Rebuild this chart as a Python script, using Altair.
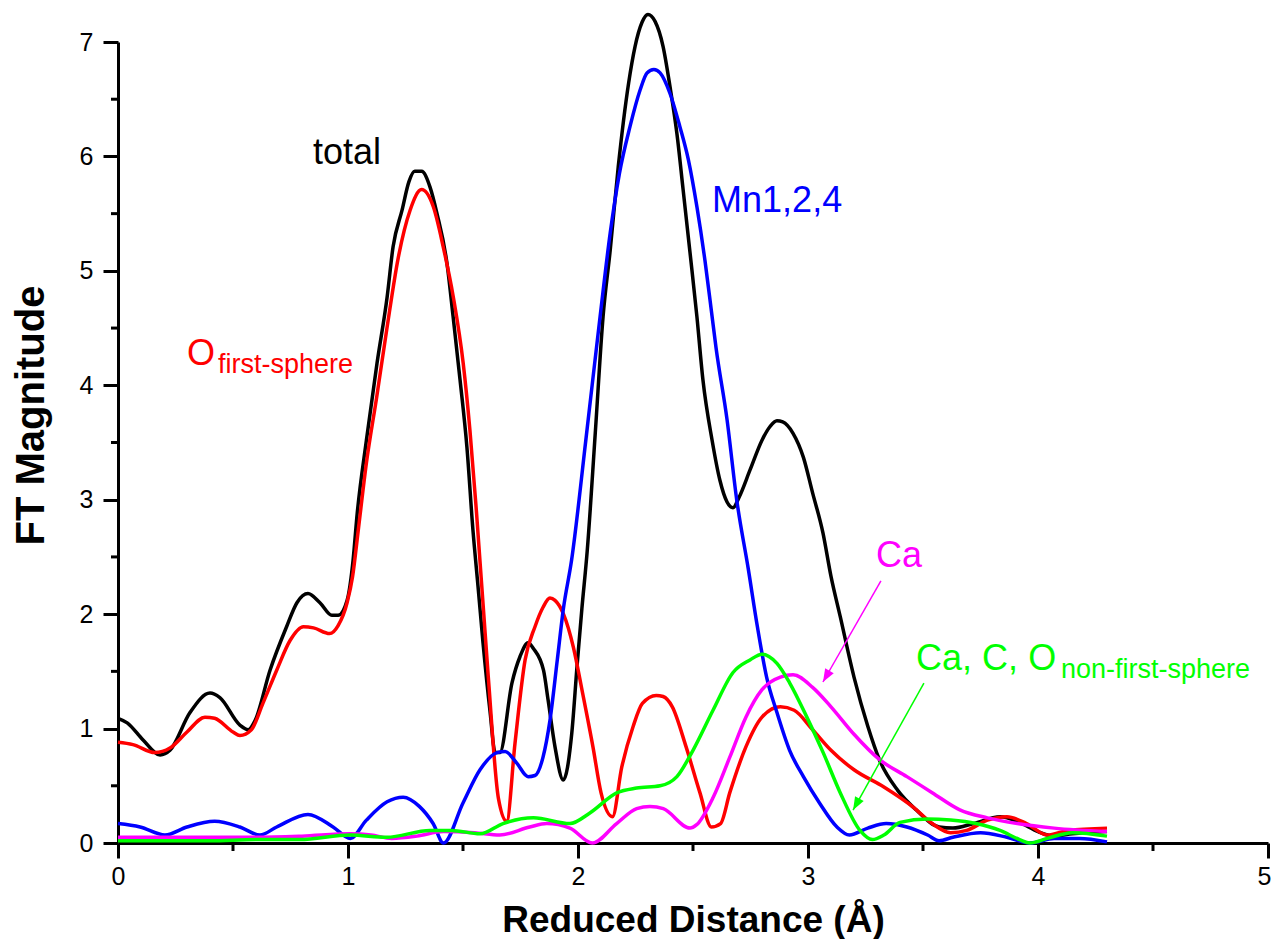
import altair as alt
import pandas as pd

FONT = "Liberation Sans"

# ---------------- data ----------------
x_domain = [0, 5]
y_domain = [0, 7]
x_major = [0, 1, 2, 3, 4, 5]
x_minor = [0.5, 1.5, 2.5, 3.5, 4.5]
y_major = [0, 1, 2, 3, 4, 5, 6, 7]
y_minor = [0.5, 1.5, 2.5, 3.5, 4.5, 5.5, 6.5]

total = [(0.00, 1.09), (0.04, 1.05), (0.109, 0.90), (0.183, 0.77), (0.226, 0.81), (0.313, 1.14),
         (0.40, 1.31), (0.443, 1.27), (0.53, 1.03), (0.566, 0.99), (0.596, 1.07), (0.661, 1.51),
         (0.733, 1.89), (0.778, 2.10), (0.826, 2.18), (0.878, 2.10), (0.93, 1.99), (0.957, 1.99),
         (0.996, 2.12), (1.022, 2.47), (1.04, 2.88), (1.08, 3.52), (1.126, 4.19), (1.17, 4.77),
         (1.196, 5.21), (1.235, 5.53), (1.265, 5.78), (1.29, 5.87), (1.32, 5.87), (1.357, 5.73),
         (1.387, 5.50), (1.43, 5.07), (1.457, 4.60), (1.487, 4.05), (1.517, 3.46), (1.543, 2.74),
         (1.565, 2.25), (1.587, 1.75), (1.617, 1.16), (1.64, 0.79), (1.66, 0.79), (1.713, 1.40),
         (1.748, 1.63), (1.783, 1.75), (1.806, 1.70), (1.85, 1.51), (1.87, 1.25), (1.90, 0.84),
         (1.936, 0.55), (1.973, 0.96), (1.996, 1.55), (2.017, 2.05), (2.04, 2.55), (2.075, 3.58),
         (2.109, 4.60), (2.14, 5.18), (2.175, 5.91), (2.22, 6.64), (2.248, 6.96), (2.278, 7.17),
         (2.304, 7.24), (2.335, 7.18), (2.37, 6.96), (2.40, 6.61), (2.43, 6.20), (2.457, 5.71),
         (2.487, 5.16), (2.517, 4.60), (2.543, 4.05), (2.583, 3.52), (2.617, 3.17), (2.648, 2.98),
         (2.674, 2.93), (2.70, 3.02), (2.748, 3.26), (2.80, 3.52), (2.835, 3.64), (2.865, 3.69),
         (2.89, 3.68), (2.935, 3.58), (2.98, 3.37), (3.02, 3.06), (3.065, 2.71), (3.10, 2.33),
         (3.14, 1.98), (3.20, 1.45), (3.26, 1.02), (3.31, 0.73), (3.39, 0.46), (3.47, 0.29),
         (3.57, 0.14), (3.63, 0.13), (3.72, 0.17), (3.835, 0.23), (3.92, 0.18), (4.00, 0.10),
         (4.07, 0.06), (4.15, 0.08), (4.30, 0.10)]

o_first = [(0.00, 0.88), (0.065, 0.86), (0.16, 0.79), (0.226, 0.83), (0.30, 0.97), (0.378, 1.10),
           (0.42, 1.09), (0.50, 0.97), (0.53, 0.94), (0.58, 0.99), (0.63, 1.22), (0.69, 1.51),
           (0.748, 1.77), (0.806, 1.89), (0.85, 1.88), (0.92, 1.83), (0.957, 1.90), (0.996, 2.10),
           (1.02, 2.33), (1.045, 2.74), (1.08, 3.32), (1.125, 3.90), (1.168, 4.48), (1.219, 5.12),
           (1.27, 5.53), (1.32, 5.71), (1.371, 5.56), (1.414, 5.21), (1.458, 4.77), (1.501, 4.19),
           (1.53, 3.61), (1.559, 2.88), (1.61, 1.45), (1.654, 0.39), (1.69, 0.19), (1.726, 0.87),
           (1.77, 1.60), (1.813, 1.89), (1.848, 2.06), (1.878, 2.14), (1.90, 2.12), (1.937, 2.00),
           (1.98, 1.71), (2.02, 1.31), (2.065, 0.84), (2.10, 0.44), (2.15, 0.23), (2.19, 0.66),
           (2.24, 1.02), (2.28, 1.22), (2.34, 1.29), (2.37, 1.28), (2.41, 1.19), (2.47, 0.84),
           (2.53, 0.44), (2.58, 0.14), (2.62, 0.17), (2.66, 0.44), (2.73, 0.84), (2.80, 1.10),
           (2.88, 1.19), (2.94, 1.16), (3.02, 0.99), (3.10, 0.81), (3.20, 0.64), (3.33, 0.49),
           (3.46, 0.31), (3.54, 0.17), (3.62, 0.09), (3.69, 0.11), (3.78, 0.20), (3.865, 0.23),
           (3.95, 0.17), (4.04, 0.07), (4.13, 0.11), (4.30, 0.13)]

mn124 = [(0.00, 0.17), (0.096, 0.14), (0.204, 0.07), (0.30, 0.14), (0.42, 0.19), (0.53, 0.14),
         (0.617, 0.07), (0.69, 0.14), (0.826, 0.25), (0.935, 0.14), (1.01, 0.04), (1.08, 0.20),
         (1.17, 0.36), (1.24, 0.40), (1.31, 0.32), (1.37, 0.17), (1.415, 0.00), (1.50, 0.35),
         (1.574, 0.64), (1.648, 0.79), (1.683, 0.80), (1.733, 0.70), (1.783, 0.58), (1.813, 0.59),
         (1.848, 0.75), (1.878, 1.07), (1.91, 1.60), (1.936, 2.04), (1.972, 2.47), (2.034, 3.52),
         (2.096, 4.60), (2.14, 5.33), (2.18, 5.85), (2.226, 6.26), (2.27, 6.58), (2.30, 6.73),
         (2.33, 6.76), (2.357, 6.73), (2.40, 6.55), (2.443, 6.26), (2.48, 5.97), (2.517, 5.56),
         (2.552, 5.09), (2.58, 4.65), (2.60, 4.33), (2.648, 3.70), (2.69, 3.00), (2.74, 2.40),
         (2.78, 1.89), (2.82, 1.45), (2.865, 1.14), (2.92, 0.81), (2.98, 0.58), (3.05, 0.35),
         (3.126, 0.14), (3.18, 0.07), (3.26, 0.13), (3.34, 0.17), (3.43, 0.14), (3.52, 0.07),
         (3.57, 0.02), (3.63, 0.05), (3.75, 0.09), (3.865, 0.05), (3.965, 0.00), (4.07, 0.04),
         (4.18, 0.04), (4.30, 0.01)]

ca = [(0.00, 0.05), (0.20, 0.05), (0.40, 0.05), (0.60, 0.05), (0.80, 0.06), (1.01, 0.08),
      (1.10, 0.07), (1.19, 0.04), (1.30, 0.06), (1.415, 0.10), (1.55, 0.09), (1.66, 0.07),
      (1.79, 0.14), (1.864, 0.17), (1.965, 0.13), (2.062, 0.00), (2.168, 0.17), (2.255, 0.30),
      (2.313, 0.32), (2.371, 0.30), (2.487, 0.13), (2.516, 0.16), (2.588, 0.40), (2.66, 0.75),
      (2.73, 1.10), (2.80, 1.34), (2.88, 1.45), (2.935, 1.47), (3.02, 1.36), (3.10, 1.19),
      (3.20, 0.95), (3.31, 0.73), (3.43, 0.58), (3.54, 0.44), (3.66, 0.29), (3.78, 0.22),
      (3.91, 0.17), (4.07, 0.13), (4.30, 0.10)]

ca_c_o = [(0.00, 0.02), (0.20, 0.02), (0.40, 0.02), (0.60, 0.03), (0.79, 0.03), (1.01, 0.07),
          (1.168, 0.05), (1.357, 0.11), (1.45, 0.11), (1.574, 0.08), (1.674, 0.17), (1.806, 0.22),
          (1.965, 0.17), (2.05, 0.26), (2.17, 0.44), (2.255, 0.48), (2.357, 0.50), (2.43, 0.58),
          (2.50, 0.81), (2.587, 1.16), (2.674, 1.49), (2.748, 1.60), (2.80, 1.65), (2.865, 1.57),
          (2.92, 1.40), (2.995, 1.10), (3.066, 0.79), (3.14, 0.44), (3.226, 0.11), (3.28, 0.03),
          (3.33, 0.07), (3.40, 0.18), (3.52, 0.21), (3.62, 0.20), (3.73, 0.17), (3.835, 0.11),
          (3.92, 0.03), (3.965, 0.00), (4.04, 0.04), (4.15, 0.09), (4.30, 0.06)]

# annotation labels (anchored in data units)
label_text = ["total", "Mn1,2,4", "O", "Ca", "Ca, C, O"]
label_x = [0.848, 2.583, 0.300, 3.296, 3.470]
label_y = [5.93, 5.51, 4.18, 2.41, 1.51]
label_color = ["#000000", "#0000ff", "#ff0000", "#ff00ff", "#00ff00"]

sub_text = ["first-sphere", "non-first-sphere"]
sub_x = [0.435, 4.100]
sub_y = [4.107, 1.442]
sub_color = ["#ff0000", "#00ff00"]

arrow_x0 = [3.317, 3.504]
arrow_y0 = [2.290, 1.398]
arrow_x1 = [3.065, 3.196]
arrow_y1 = [1.407, 0.288]
arrow_angle = [210, 209]
arrow_color = ["#ff00ff", "#00ff00"]

# ---------------- chart ----------------
xs = alt.Scale(domain=x_domain, nice=False, zero=False)
ys = alt.Scale(domain=y_domain, nice=False, zero=False)

x_axis = alt.Axis(values=x_major, format="d", title="Reduced Distance (Å)", grid=False,
                  domainColor="black", domainWidth=3, tickColor="black", tickWidth=3, tickSize=15,
                  labelFont=FONT, labelFontSize=25, labelColor="black", labelPadding=6,
                  labelFlush=False, labelOverlap=False,
                  labelOffset={"condition": {"test": "datum.value === 5", "value": -4}, "value": 0},
                  titleFont=FONT, titleFontSize=37, titleFontWeight="bold", titleColor="black",
                  titleBaseline="alphabetic", titleY=88)
y_axis = alt.Axis(values=y_major, format="d", title="FT Magnitude", grid=False,
                  domainColor="black", domainWidth=3, tickColor="black", tickWidth=3, tickSize=15,
                  labelFont=FONT, labelFontSize=25, labelColor="black", labelPadding=10,
                  labelFlush=False, labelOverlap=False,
                  titleFont=FONT, titleFontSize=40, titleFontWeight="bold", titleColor="black",
                  titleAngle=270, titleAlign="center", titleBaseline="middle",
                  titleX=-87, titleY=373)


def X(field):
    return alt.X(field, type="quantitative", scale=xs, axis=x_axis)


def Y(field):
    return alt.Y(field, type="quantitative", scale=ys, axis=y_axis)


def line_layer(pairs, color):
    df = pd.DataFrame(pairs, columns=["x", "y"])
    return alt.Chart(df).mark_line(color=color, strokeWidth=3.5, interpolate="monotone").encode(
        x=X("x"), y=Y("y"))


lines = [
    line_layer(total, "#000000"),
    line_layer(o_first, "#ff0000"),
    line_layer(mn124, "#0000ff"),
    line_layer(ca, "#ff00ff"),
    line_layer(ca_c_o, "#00ff00"),
]

x_minor_layer = alt.Chart(pd.DataFrame({"v": x_minor})).mark_rule(color="black", strokeWidth=3).encode(
    x=X("v"), y=alt.value(801), y2=alt.value(809))
y_minor_layer = alt.Chart(pd.DataFrame({"v": y_minor})).mark_rule(color="black", strokeWidth=3).encode(
    y=Y("v"), x=alt.value(-7), x2=alt.value(0))

arrows_df = pd.DataFrame({"x0": arrow_x0, "y0": arrow_y0, "x1": arrow_x1, "y1": arrow_y1,
                          "angle": arrow_angle, "color": arrow_color})
arrow_lines = alt.Chart(arrows_df).mark_rule(strokeWidth=1.5).encode(
    x=X("x0"), y=Y("y0"), x2="x1", y2="y1", color=alt.Color("color:N", scale=None))
arrow_heads = alt.Chart(arrows_df).mark_point(
    shape="M0,0L-0.38,1L0.38,1Z", filled=True, size=676, opacity=1, strokeWidth=0).encode(
    x=X("x1"), y=Y("y1"), angle=alt.Angle("angle:Q", scale=None), color=alt.Color("color:N", scale=None))

labels_df = pd.DataFrame({"label": label_text, "x": label_x, "y": label_y, "color": label_color})
labels = alt.Chart(labels_df).mark_text(align="left", baseline="alphabetic", font=FONT, fontSize=36).encode(
    x=X("x"), y=Y("y"), text="label:N", color=alt.Color("color:N", scale=None))

subs_df = pd.DataFrame({"label": sub_text, "x": sub_x, "y": sub_y, "color": sub_color})
subs = alt.Chart(subs_df).mark_text(align="left", baseline="alphabetic", font=FONT, fontSize=27).encode(
    x=X("x"), y=Y("y"), text="label:N", color=alt.Color("color:N", scale=None))

chart = alt.layer(*lines, x_minor_layer, y_minor_layer, arrow_lines, arrow_heads, labels, subs).properties(
    width=1150, height=801,
    autosize=alt.AutoSizeParams(type="none"),
    padding={"left": 110, "top": 34, "right": 3, "bottom": 96},
    background="white",
).configure_view(stroke="transparent")

chart.save("out.html", embed_options={"renderer": "svg", "actions": False})
